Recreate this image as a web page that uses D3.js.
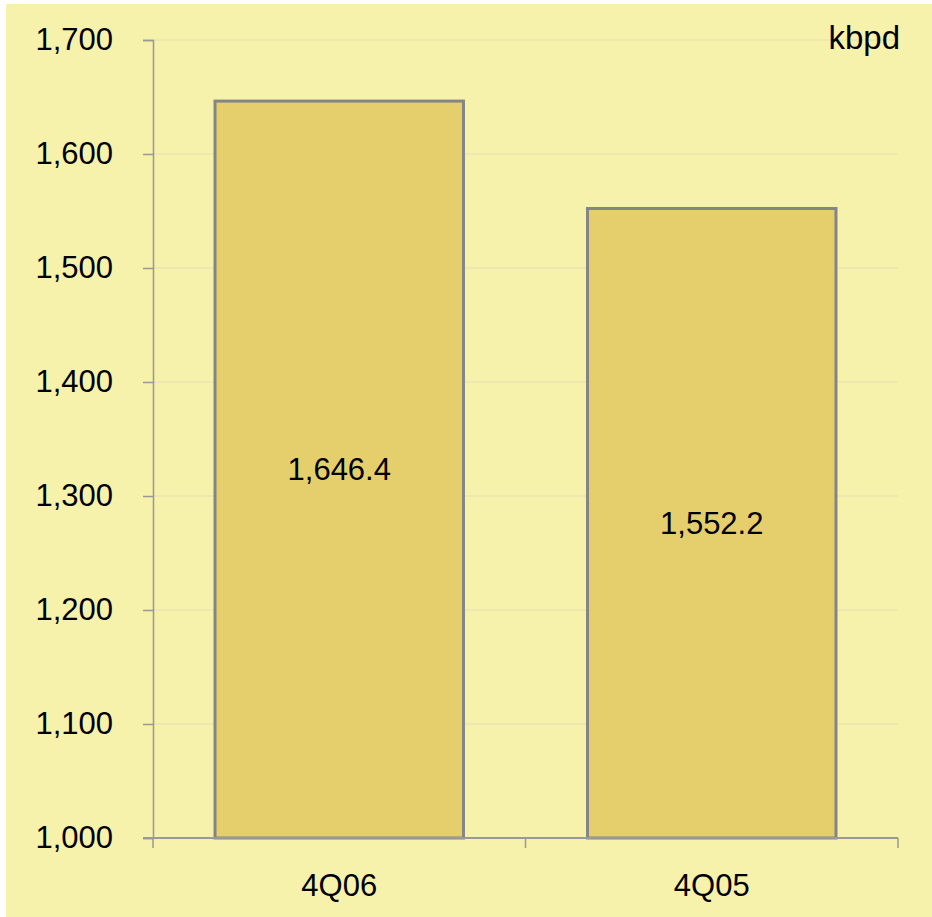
<!DOCTYPE html>
<html>
<head>
<meta charset="utf-8">
<script src="https://cdn.jsdelivr.net/npm/d3@7"></script>
<style>
  body { margin: 0; background: #fff; }
  svg { display: block; }
  text { font-family: "Liberation Sans", Arial, sans-serif; fill: #000; }
</style>
</head>
<body>
<div id="chart"></div>
<script>
// ---------- data ----------
var categories = ["4Q06", "4Q05"];
var values = [1646.4, 1552.2];
var yTicks = [1000, 1100, 1200, 1300, 1400, 1500, 1600, 1700];
var unitLabel = "kbpd";

var width = 932, height = 917;
var margin = {left: 153, right: 34, top: 40, bottom: 79};

var svg = d3.select("#chart").append("svg")
    .attr("width", width)
    .attr("height", height);

// background panel
svg.append("rect")
    .attr("x", 6).attr("y", 4)
    .attr("width", width - 6).attr("height", height - 4)
    .attr("fill", "#F6F1AB");

var x_scale = d3.scaleBand()
    .domain(categories)
    .range([margin.left, width - margin.right])
    .paddingInner(0.333)
    .paddingOuter(0.1665);

var y_scale = d3.scaleLinear()
    .domain([1000, 1700])
    .range([height - margin.bottom, margin.top]);

// ---------- gridlines ----------
svg.selectAll(".grid").data(yTicks.slice(1)).enter().append("line")
    .attr("class", "grid")
    .attr("x1", margin.left)
    .attr("x2", width - margin.right)
    .attr("y1", function(d) { return y_scale(d); })
    .attr("y2", function(d) { return y_scale(d); })
    .attr("stroke", "#EAE5AE")
    .attr("stroke-width", 1.5);

// ---------- bars ----------
svg.selectAll(".bar").data(values).enter().append("rect")
    .attr("class", "bar")
    .attr("x", function(d, i) { return x_scale(categories[i]); })
    .attr("y", function(d) { return y_scale(d); })
    .attr("width", x_scale.bandwidth())
    .attr("height", function(d) { return y_scale(1000) - y_scale(d); })
    .attr("fill", "#E5CF6C")
    .attr("stroke", "#858585")
    .attr("stroke-width", 3);

svg.selectAll(".barlabel").data(values).enter().append("text")
    .attr("class", "barlabel")
    .attr("x", function(d, i) { return x_scale(categories[i]) + x_scale.bandwidth() / 2; })
    .attr("y", function(d) { return (y_scale(d) + y_scale(1000)) / 2; })
    .attr("dy", "0.35em")
    .attr("text-anchor", "middle")
    .style("font-size", "31px")
    .text(function(d) { return d3.format(",.1f")(d); });

// ---------- axes ----------
var yAxis = d3.axisLeft(y_scale)
    .tickValues(yTicks)
    .tickSize(10)
    .tickPadding(30)
    .tickFormat(d3.format(","));

var gy = svg.append("g")
    .attr("transform", "translate(" + margin.left + ",0)")
    .call(yAxis);
gy.select(".domain").attr("stroke", "#999").attr("stroke-width", 1.5);
gy.selectAll(".tick line").attr("stroke", "#999").attr("stroke-width", 1.5);
gy.selectAll(".tick text").style("font-size", "31px").style("font-family", "Liberation Sans, Arial, sans-serif");

var x_edges = d3.scalePoint().domain(d3.range(categories.length + 1))
    .range([margin.left, width - margin.right]);

var gx = svg.append("g")
    .attr("transform", "translate(0," + y_scale(1000) + ")");
gx.append("line")
    .attr("x1", margin.left - 10)
    .attr("x2", width - margin.right)
    .attr("stroke", "#999").attr("stroke-width", 2);
gx.selectAll(".xtick").data(x_edges.domain()).enter().append("line")
    .attr("class", "xtick")
    .attr("x1", function(d) { return x_edges(d); })
    .attr("x2", function(d) { return x_edges(d); })
    .attr("y1", 0).attr("y2", 10)
    .attr("stroke", "#999").attr("stroke-width", 1.5);
gx.selectAll(".xlabel").data(categories).enter().append("text")
    .attr("class", "xlabel")
    .attr("x", function(d) { return x_scale(d) + x_scale.bandwidth() / 2; })
    .attr("y", 58)
    .attr("text-anchor", "middle")
    .style("font-size", "31px")
    .text(function(d) { return d; });

// unit label
svg.append("text")
    .attr("x", 900)
    .attr("y", 49)
    .attr("text-anchor", "end")
    .style("font-size", "33px")
    .text(unitLabel);
</script>
</body>
</html>
